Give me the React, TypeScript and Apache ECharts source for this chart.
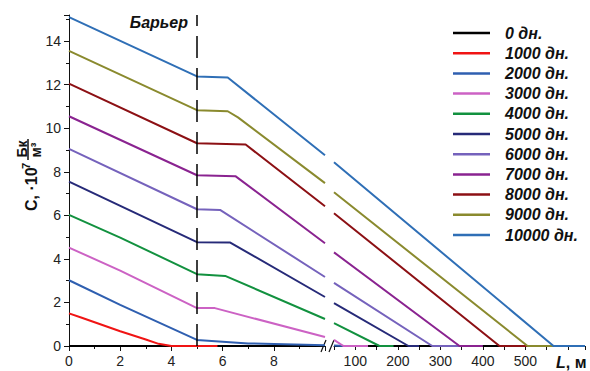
import { useEffect, useRef } from 'react';
import * as echarts from 'echarts';

// Legend captions (time since release) and line colours
const dayLabels = [
  '0 дн.', '1000 дн.', '2000 дн.', '3000 дн.', '4000 дн.', '5000 дн.',
  '6000 дн.', '7000 дн.', '8000 дн.', '9000 дн.', '10000 дн.',
];
const lineColors = [
  '#000000', '#f01414', '#2f5fb0', '#cc62c4', '#12913f', '#262a78',
  '#7562bc', '#8a2390', '#8c1014', '#8a8a2e', '#2f6fb6',
];

// Near zone, L = 0…10 m: [L, C·10^7]
const near0 = [[0, 0], [10, 0]];
const near1000 = [[0, 1.5], [0.5, 1.3], [2, 0.68], [3, 0.3], [3.5, 0.1], [4, 0], [5.8, 0]];
const near2000 = [[0, 3.02], [2, 1.89], [5, 0.28], [7, 0.12], [10, 0.03]];
const near3000 = [[0, 4.52], [2, 3.46], [5, 1.74], [5.7, 1.74], [10, 0.41]];
const near4000 = [[0, 6.02], [2, 4.98], [5, 3.3], [6.1, 3.22], [10, 1.24]];
const near5000 = [[0, 7.55], [5, 4.77], [6.3, 4.75], [10, 2.25]];
const near6000 = [[0, 9.05], [5, 6.28], [5.9, 6.25], [10, 3.17]];
const near7000 = [[0, 10.55], [5, 7.84], [6.5, 7.8], [10, 4.72]];
const near8000 = [[0, 12.05], [5, 9.31], [6.9, 9.25], [10, 6.42]];
const near9000 = [[0, 13.55], [5, 10.83], [6.2, 10.78], [6.6, 10.5], [10, 7.48]];
const near10000 = [[0, 15.1], [5, 12.38], [6.2, 12.33], [10, 8.76]];

// Far zone, L = 50…640 m
const far0 = [[50, 0], [640, 0]];
const far1000: number[][] = [];
const far2000 = [[50, 0.02], [75, 0]];
const far3000 = [[50, 0.28], [72, 0], [130, 0]];
const far4000 = [[50, 1.05], [157, 0], [190, 0]];
const far5000 = [[50, 1.97], [225, 0], [250, 0]];
const far6000 = [[50, 2.9], [281, 0], [345, 0]];
const far7000 = [[50, 4.3], [345, 0], [400, 0]];
const far8000 = [[50, 6.1], [439, 0], [505, 0]];
const far9000 = [[50, 7.06], [505, 0], [566, 0]];
const far10000 = [[50, 8.44], [566, 0], [640, 0]];

const nearProfiles = [near0, near1000, near2000, near3000, near4000, near5000,
  near6000, near7000, near8000, near9000, near10000];
const farProfiles = [far0, far1000, far2000, far3000, far4000, far5000,
  far6000, far7000, far8000, far9000, far10000];

const barrierL = 5;
const nearRange = [0, 10];
const farRange = [50, 640];
const cRange = [0, 15.2];

const FONT = 'Arial, "Liberation Sans", sans-serif';

// Plot frames (two panels for the broken L axis)
const TOP = 15;
const HEIGHT = 331;
const G1 = { left: 69, width: 256 };
const G2 = { left: 334, width: 251 };
const BASE = TOP + HEIGHT;

export default function App() {
  const ref = useRef<HTMLDivElement>(null);

  useEffect(() => {
    if (!ref.current) return;
    const chart = echarts.init(ref.current, undefined, { renderer: 'svg' });

    const axisLine = { show: true, onZero: false, lineStyle: { color: '#111', width: 1 } };
    const tickStyle = { color: '#111', width: 1 };
    const labelStyle = { fontSize: 14, color: '#222', fontFamily: FONT };

    const series: any[] = [];
    nearProfiles.forEach((d, i) => {
      series.push({
        type: 'line',
        name: dayLabels[i],
        xAxisIndex: 0,
        yAxisIndex: 0,
        data: d,
        symbol: 'none',
        color: lineColors[i],
        lineStyle: { width: 2, color: lineColors[i] },
        markLine: i === 0 ? {
          silent: true,
          symbol: 'none',
          label: { show: false },
          lineStyle: { color: '#000', width: 1.5, type: [22, 10] },
          data: [{ xAxis: barrierL }],
        } : undefined,
      });
    });
    farProfiles.forEach((d, i) => {
      series.push({
        type: 'line',
        name: dayLabels[i],
        xAxisIndex: 1,
        yAxisIndex: 1,
        data: d,
        symbol: 'none',
        color: lineColors[i],
        lineStyle: { width: 2, color: lineColors[i] },
      });
    });

    const breakY1 = BASE + 6;
    const breakY2 = BASE - 6;
    const gapStart = G1.left + G1.width;

    chart.setOption({
      animation: false,
      backgroundColor: '#ffffff',
      grid: [
        { left: G1.left, top: TOP, width: G1.width, height: HEIGHT },
        { left: G2.left, top: TOP, width: G2.width, height: HEIGHT },
      ],
      xAxis: [
        {
          type: 'value', gridIndex: 0, min: nearRange[0], max: nearRange[1], interval: 2,
          axisLine, splitLine: { show: false },
          axisTick: { show: true, length: 5, lineStyle: tickStyle },
          minorTick: { show: true, splitNumber: 2, length: 3, lineStyle: tickStyle },
          axisLabel: { ...labelStyle, margin: 8, formatter: (v: number) => (v === 10 ? '' : String(v)) },
        },
        {
          type: 'value', gridIndex: 1, min: farRange[0], max: farRange[1], interval: 50,
          axisLine, splitLine: { show: false },
          axisTick: { show: true, length: 4, lineStyle: tickStyle },
          axisLabel: {
            ...labelStyle, margin: 8,
            formatter: (v: number) => (v % 100 === 0 && v <= 500 ? String(v) : ''),
          },
        },
      ],
      yAxis: [
        {
          type: 'value', gridIndex: 0, min: cRange[0], max: cRange[1], interval: 2,
          axisLine, splitLine: { show: false },
          axisTick: { show: true, length: 5, lineStyle: tickStyle },
          minorTick: { show: true, splitNumber: 2, length: 3, lineStyle: tickStyle },
          axisLabel: {
            ...labelStyle, margin: 8, showMaxLabel: false,
            formatter: (v: number) => (v % 2 === 0 ? String(v) : ''),
          },
        },
        { type: 'value', gridIndex: 1, min: cRange[0], max: cRange[1], show: false },
      ],
      legend: {
        orient: 'vertical',
        left: 453,
        top: 25,
        padding: 0,
        icon: 'rect',
        itemWidth: 37,
        itemHeight: 2.5,
        itemGap: 4.2,
        data: dayLabels,
        textStyle: {
          fontSize: 16, fontWeight: 'bold', fontStyle: 'italic', fontFamily: FONT,
          color: '#111', lineHeight: 16, padding: [0, 0, 0, 10],
        },
      },
      graphic: [
        // barrier caption
        {
          type: 'text', x: 188, y: 22,
          style: {
            text: 'Барьер', align: 'right', verticalAlign: 'middle',
            font: `italic bold 16px ${FONT}`, fill: '#111',
          },
        },
        // axis break marks
        {
          type: 'line', shape: { x1: gapStart - 4, y1: breakY1, x2: gapStart + 1, y2: breakY2 },
          style: { stroke: '#111', lineWidth: 1.2 },
        },
        {
          type: 'line', shape: { x1: gapStart + 4, y1: breakY1, x2: gapStart + 9, y2: breakY2 },
          style: { stroke: '#111', lineWidth: 1.2 },
        },
        // x axis name
        {
          type: 'text', x: 556, y: 362,
          style: {
            text: '{i|L}{n|, м}', verticalAlign: 'middle', align: 'left',
            rich: {
              i: { fontSize: 16, fontWeight: 'bold', fontStyle: 'italic', fontFamily: FONT, fill: '#111' },
              n: { fontSize: 16, fontWeight: 'bold', fontFamily: FONT, fill: '#111' },
            },
          },
        },
        // y axis name: C, ·10^7 Бк/м³
        {
          type: 'text', x: 31, y: 211, rotation: Math.PI / 2,
          style: {
            text: 'C, ·10', align: 'left', verticalAlign: 'middle',
            font: `bold 16px ${FONT}`, fill: '#111',
          },
        },
        {
          type: 'text', x: 25.5, y: 166, rotation: Math.PI / 2,
          style: {
            text: '7', align: 'center', verticalAlign: 'middle',
            font: `bold 11px ${FONT}`, fill: '#111',
          },
        },
        {
          type: 'text', x: 21.5, y: 149, rotation: Math.PI / 2,
          style: {
            text: 'Бк', align: 'center', verticalAlign: 'middle',
            font: `bold 14px ${FONT}`, fill: '#111',
          },
        },
        {
          type: 'line', shape: { x1: 28, y1: 139, x2: 28, y2: 160 },
          style: { stroke: '#111', lineWidth: 1.5 },
        },
        {
          type: 'text', x: 35.5, y: 150, rotation: Math.PI / 2,
          style: {
            text: 'м³', align: 'center', verticalAlign: 'middle',
            font: `bold 14px ${FONT}`, fill: '#111',
          },
        },
      ],
      series,
    });

    return () => chart.dispose();
  }, []);

  return (
    <div
      ref={ref}
      style={{ position: 'fixed', left: 0, top: 0, width: 590, height: 371, background: '#fff' }}
    />
  );
}
